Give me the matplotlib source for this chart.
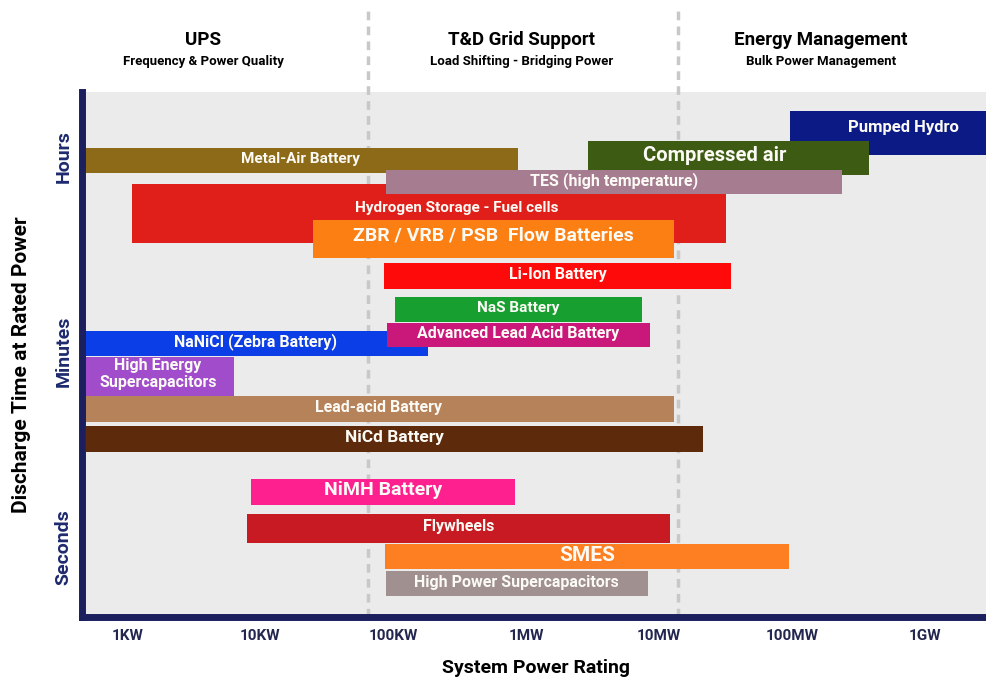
import matplotlib
matplotlib.use('Agg')
import matplotlib.pyplot as plt
from matplotlib import font_manager
import numpy as np

# storage technologies: power range (W) and discharge time range (s)
names = ['Pumped Hydro', 'Compressed air', 'Metal-Air Battery',
         'Hydrogen Storage - Fuel cells', 'TES (high temperature)',
         'ZBR / VRB / PSB  Flow Batteries', 'Li-Ion Battery', 'NaS Battery',
         'NaNiCl (Zebra Battery)', 'Advanced Lead Acid Battery',
         'High Energy\nSupercapacitors', 'Lead-acid Battery', 'NiCd Battery',
         'NiMH Battery', 'Flywheels', 'SMES', 'High Power Supercapacitors']
p_min = [9.7e7, 2.9e6, 3e2, 1.09e3, 8.8e4, 2.5e4, 8.5e4, 1.03e5,
         3e2, 9.0e4, 3e2, 3e2, 4.9e2, 8.5e3, 8.0e3, 8.7e4, 8.8e4]
p_max = [5e9, 3.8e8, 8.7e5, 3.2e7, 2.4e8, 1.3e7, 3.5e7, 7.4e6,
         1.83e5, 8.5e6, 6.3e3, 1.29e7, 2.13e7, 8.3e5, 1.2e7, 9.5e7, 8.2e6]
t_min = [4310, 2660, 2660, 771, 1712, 476, 233, 117,
         57, 69, 24.7, 14.3, 7.6, 2.5, 1.15, 0.65, 0.37]
t_max = [9980, 5206, 4401, 2201, 2773, 992, 394, 193,
         94.5, 112, 57, 24.1, 13.1, 4.3, 2.03, 1.08, 0.61]
colors = ['#0c1a86', '#3e5b13', '#8d6a17', '#e01f1a', '#a67c90',
          '#fb7f12', '#fe0a0a', '#17a030', '#0b3ee6', '#c9177a',
          '#a04ccb', '#b5825a', '#5e2a0c', '#ff2090', '#c81a22',
          '#fe7f22', '#a09090']
label_sizes = [12, 14.5, 11, 11, 11.5, 14, 11.5, 11, 11.5, 11.5,
               11.5, 11.5, 12.5, 14, 11.5, 15, 11.5]
# label spots that are not at the bar centre (W, s)
label_spots = {'Hydrogen Storage - Fuel cells': (3.0e5, 1220),
               'Compressed air': (2.64e7, 3700)}

x_ticks = [1e3, 1e4, 1e5, 1e6, 1e7, 1e8, 1e9]
x_tick_labels = ['1KW', '10KW', '100KW', '1MW', '10MW', '100MW', '1GW']
y_ticks = [1, 60, 3600]
y_tick_labels = ['Seconds', 'Minutes', 'Hours']
section_bounds = [6.5e4, 1.4e7]
sections = ['UPS', 'T&D Grid Support', 'Energy Management']
section_subs = ['Frequency & Power Quality', 'Load Shifting - Bridging Power',
                'Bulk Power Management']

installed = {f.name for f in font_manager.fontManager.ttflist}
narrow = 'Liberation Sans Narrow' if 'Liberation Sans Narrow' in installed else 'Roboto'
plt.rcParams['font.family'] = ['Roboto', 'DejaVu Sans']

navy = '#1b1f5e'
W, H = 987, 678
fig = plt.figure(figsize=(9.87, 6.78), dpi=100)
ax = fig.add_axes([82.5 / W, (H - 617) / H, (W - 82.5) / W, (617 - 92) / H])
ax.set_facecolor('#ebebeb')
ax.set_xscale('log')
ax.set_yscale('log')
ax.set_xlim(459, 2.94e9)
ax.set_ylim(0.2287, 13958)

for b in section_bounds:
    ax.axvline(b, ymin=0, ymax=1.155, color='#c8c8c8', lw=2.5,
               ls=(0, (2.5, 1.8)), clip_on=False, zorder=1)

xlo, xhi = ax.get_xlim()
for i, name in enumerate(names):
    ax.barh(np.sqrt(t_min[i] * t_max[i]), p_max[i] - p_min[i], left=p_min[i],
            height=t_max[i] - t_min[i], color=colors[i], zorder=2)
    lx = np.sqrt(max(p_min[i], xlo) * min(p_max[i], xhi))
    if name == 'Pumped Hydro':
        lx = np.sqrt(p_min[i] * p_max[i])
    ly = np.sqrt(t_min[i] * t_max[i])
    if name in label_spots:
        lx, ly = label_spots[name]
    ax.text(lx, ly, name, ha='center', va='center', color='#fbfaf5',
            fontsize=label_sizes[i], fontweight='bold', zorder=3,
            linespacing=1.1)

ax.set_xticks(x_ticks)
ax.set_xticklabels(x_tick_labels, fontsize=11, fontweight='bold',
                   color='#23264f', family=narrow)
ax.xaxis.set_minor_locator(matplotlib.ticker.NullLocator())
ax.set_yticks(y_ticks)
ax.set_yticklabels(y_tick_labels, fontsize=14, fontweight='bold',
                   color='#1e2a6e', rotation=90, va='center')
ax.yaxis.set_minor_locator(matplotlib.ticker.NullLocator())
ax.tick_params(axis='x', length=0, pad=9)
ax.tick_params(axis='y', length=0, pad=7)

for side in ['top', 'right']:
    ax.spines[side].set_visible(False)
for side in ['left', 'bottom']:
    ax.spines[side].set_color(navy)
    ax.spines[side].set_linewidth(5)
    ax.spines[side].set_zorder(5)

fig.text(536 / W, 1 - 668 / H, 'System Power Rating', ha='center',
         va='center', fontsize=14, fontweight='bold', family=narrow)
fig.text(22 / W, 1 - 365 / H, 'Discharge Time at Rated Power', ha='center',
         va='center', rotation=90, fontsize=15, fontweight='bold')

head_x = [203, 522, 821]
for hx, title, sub in zip(head_x, sections, section_subs):
    fig.text(hx / W, 1 - 40 / H, title, ha='center', va='center',
             fontsize=13.5, fontweight='bold', family=narrow)
    fig.text(hx / W, 1 - 62 / H, sub, ha='center', va='center',
             fontsize=9.5, fontweight='bold', family=narrow)

fig.savefig('out.png', dpi=100, facecolor='white')
